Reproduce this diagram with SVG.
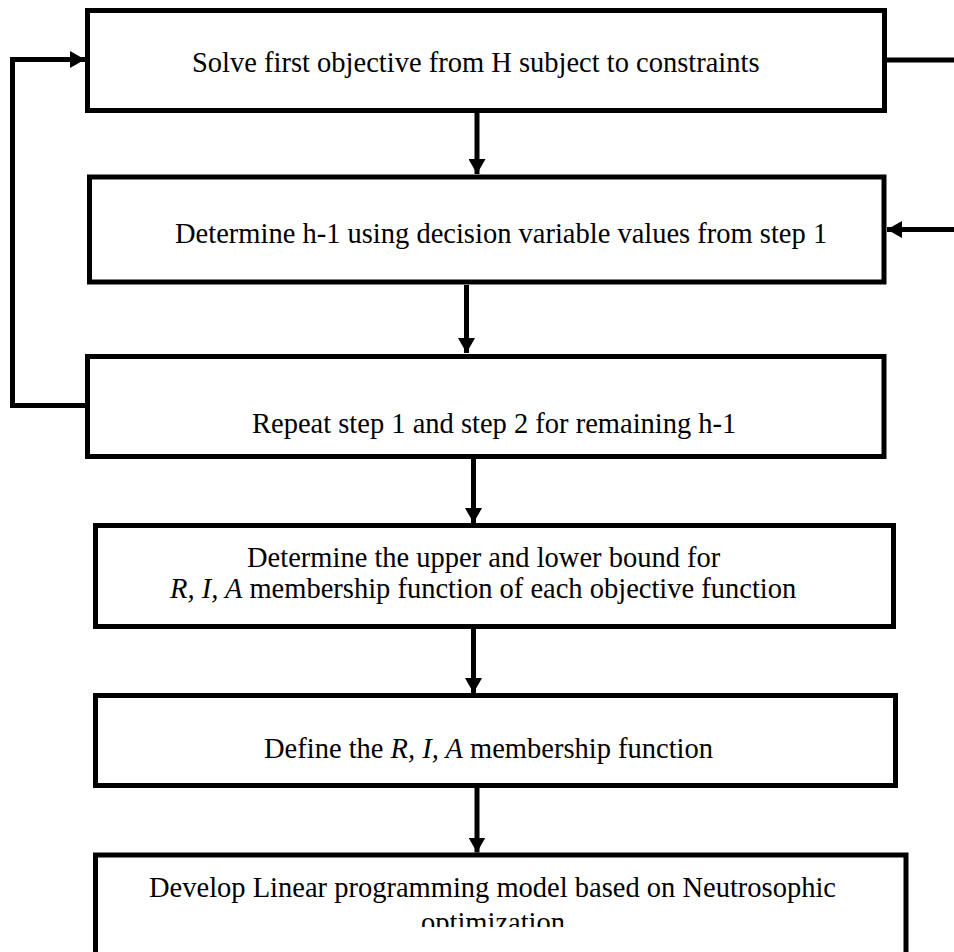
<svg xmlns="http://www.w3.org/2000/svg" width="954" height="952" viewBox="0 0 954 952">
<style>
.box{fill:#fff;stroke:#000;stroke-width:5}
.con{fill:none;stroke:#000;stroke-width:5}
.t{font-family:"Liberation Serif","Times New Roman",serif;font-size:28.5px;fill:#000}
.i{font-style:italic}
</style>
<defs>
<marker id="ah" markerUnits="userSpaceOnUse" markerWidth="16" markerHeight="17" refX="15" refY="8.5" orient="auto" viewBox="0 0 16 17">
<path d="M0,0 L15,8.5 L0,17 z" fill="#000"/>
</marker>
<clipPath id="clip6"><rect x="0" y="0" width="954" height="927"/></clipPath>
</defs>
<rect width="954" height="952" fill="#fff"/>
<g id="n1"><rect class="box" x="87.5" y="10.5" width="797" height="100"/><text class="t" x="192" y="72">Solve first objective from H subject to constraints</text></g>
<g id="n2"><rect class="box" x="89.5" y="177" width="794.5" height="105"/><text class="t" x="175" y="243">Determine h-1 using decision variable values from step 1</text></g>
<g id="n3"><rect class="box" x="87.5" y="356.5" width="796.5" height="100"/><text class="t" x="252" y="433">Repeat step 1 and step 2 for remaining h-1</text></g>
<g id="n4"><rect class="box" x="95.5" y="525.5" width="798" height="101"/><text class="t" x="247" y="567">Determine the upper and lower bound for</text><text class="t" x="170" y="598"><tspan class="i">R, I, A</tspan> membership function of each objective function</text></g>
<g id="n5"><rect class="box" x="95.5" y="695.5" width="800" height="90"/><text class="t" x="264" y="758">Define the <tspan class="i">R, I, A</tspan> membership function</text></g>
<g id="n6"><rect class="box" x="95.5" y="855" width="810.5" height="200"/><text class="t" x="149" y="897">Develop Linear programming model based on Neutrosophic</text><text class="t" x="493" y="932" text-anchor="middle" clip-path="url(#clip6)">optimization</text></g>
<g id="connectors">
<line class="con" x1="477" y1="113" x2="477" y2="174" marker-end="url(#ah)"/>
<line class="con" x1="466.5" y1="285" x2="466.5" y2="353" marker-end="url(#ah)"/>
<line class="con" x1="473.5" y1="459" x2="473.5" y2="523" marker-end="url(#ah)"/>
<line class="con" x1="473.5" y1="629" x2="473.5" y2="693" marker-end="url(#ah)"/>
<line class="con" x1="477" y1="788" x2="477" y2="852.5" marker-end="url(#ah)"/>
<path class="con" d="M85,405.5 H12.5 V59.5 H85" marker-end="url(#ah)"/>
<line class="con" x1="887" y1="60" x2="954" y2="60"/>
<line class="con" x1="954" y1="229.5" x2="887" y2="229.5" marker-end="url(#ah)"/>
</g>
</svg>
